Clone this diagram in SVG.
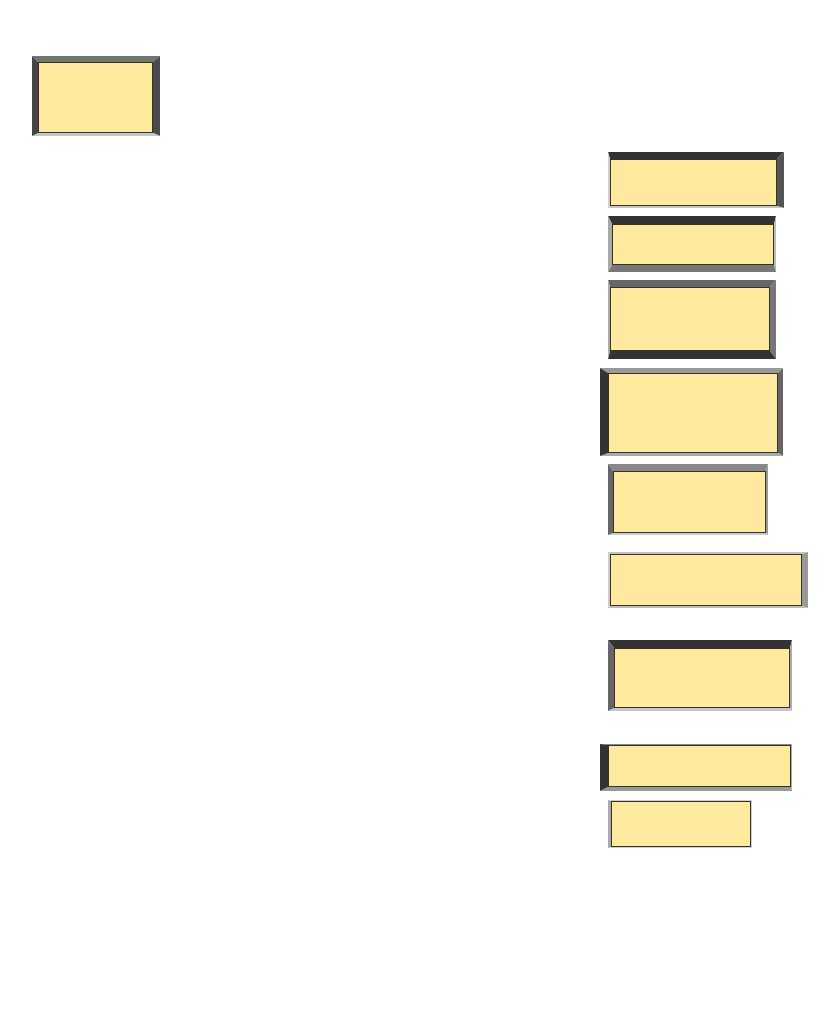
<svg xmlns="http://www.w3.org/2000/svg" width="824" height="1030" viewBox="0 0 824 1030">
<style>
.in{fill:#fee99d;stroke:#35332a;stroke-width:1}
</style>
<rect x="0" y="0" width="824" height="1030" fill="#ffffff"/>
<g id="node1">
<polygon points="32,56 160,56 153,62 38,62" fill="#6f756f"/>
<polygon points="160,56 160,136 153,133 153,62" fill="#4b4a4f"/>
<polygon points="32,136 160,136 153,133 38,133" fill="#c6c6c6"/>
<polygon points="32,56 38,62 38,133 32,136" fill="#454545"/>
<rect class="in" x="38.5" y="62.5" width="114" height="70"/>
</g>
<g id="node2">
<polygon points="608,152 784,152 777,159 610,159" fill="#333333"/>
<polygon points="784,152 784,208 777,206 777,159" fill="#555555"/>
<polygon points="608,208 784,208 777,206 610,206" fill="#c8c2c2"/>
<polygon points="608,152 610,159 610,206 608,208" fill="#cfcfcf"/>
<rect class="in" x="610.5" y="159.5" width="166" height="46"/>
</g>
<g id="node3">
<polygon points="608,216 776,216 774,224 612,224" fill="#333333"/>
<polygon points="776,216 776,272 774,265 774,224" fill="#bbbbbb"/>
<polygon points="608,272 776,272 774,265 612,265" fill="#777777"/>
<polygon points="608,216 612,224 612,265 608,272" fill="#a8a8a8"/>
<rect class="in" x="612.5" y="224.5" width="161" height="40"/>
</g>
<g id="node4">
<polygon points="608,280 776,280 770,287 610,287" fill="#666666"/>
<polygon points="776,280 776,359 770,351 770,287" fill="#777777"/>
<polygon points="608,359 776,359 770,351 610,351" fill="#333333"/>
<polygon points="608,280 610,287 610,351 608,359" fill="#aaaaaa"/>
<rect class="in" x="610.5" y="287.5" width="159" height="63"/>
</g>
<g id="node5">
<polygon points="600,368 783,368 778,373 608,373" fill="#999999"/>
<polygon points="783,368 783,456 778,453 778,373" fill="#666666"/>
<polygon points="600,456 783,456 778,453 608,453" fill="#aaaaaa"/>
<polygon points="600,368 608,373 608,453 600,456" fill="#333333"/>
<rect class="in" x="608.5" y="373.5" width="169" height="79"/>
</g>
<g id="node6">
<polygon points="608,464 768,464 766,471 613,471" fill="#888888"/>
<polygon points="768,464 768,535 766,533 766,471" fill="#999999"/>
<polygon points="608,535 768,535 766,533 613,533" fill="#cccccc"/>
<polygon points="608,464 613,471 613,533 608,535" fill="#666666"/>
<rect class="in" x="613.5" y="471.5" width="152" height="61"/>
</g>
<g id="node7">
<polygon points="608,552 808,552 802,554 610,554" fill="#c8c0c0"/>
<polygon points="808,552 808,608 802,606 802,554" fill="#999999"/>
<polygon points="608,608 808,608 802,606 610,606" fill="#c0baba"/>
<polygon points="608,552 610,554 610,606 608,608" fill="#cccccc"/>
<rect class="in" x="610.5" y="554.5" width="191" height="51"/>
</g>
<g id="node8">
<polygon points="608,640 792,640 790,648 614,648" fill="#333333"/>
<polygon points="792,640 792,711 790,708 790,648" fill="#aaaaaa"/>
<polygon points="608,711 792,711 790,708 614,708" fill="#c8c4d0"/>
<polygon points="608,640 614,648 614,708 608,711" fill="#666666"/>
<rect class="in" x="614.5" y="648.5" width="175" height="59"/>
</g>
<g id="node9">
<polygon points="600,744 792,744 791,745 608,745" fill="#888888"/>
<polygon points="792,744 792,791 791,787 791,745" fill="#aaaaaa"/>
<polygon points="600,791 792,791 791,787 608,787" fill="#999999"/>
<polygon points="600,744 608,745 608,787 600,791" fill="#333333"/>
<rect class="in" x="608.5" y="745.5" width="182" height="41"/>
</g>
<g id="node10">
<polygon points="608,800 752,800 751,801 611,801" fill="#cccccc"/>
<polygon points="752,800 752,848 751,847 751,801" fill="#cccccc"/>
<polygon points="608,848 752,848 751,847 611,847" fill="#cccccc"/>
<polygon points="608,800 611,801 611,847 608,848" fill="#aaaaaa"/>
<rect class="in" x="611.5" y="801.5" width="139" height="45"/>
</g>
<g id="connectors"></g>
</svg>
